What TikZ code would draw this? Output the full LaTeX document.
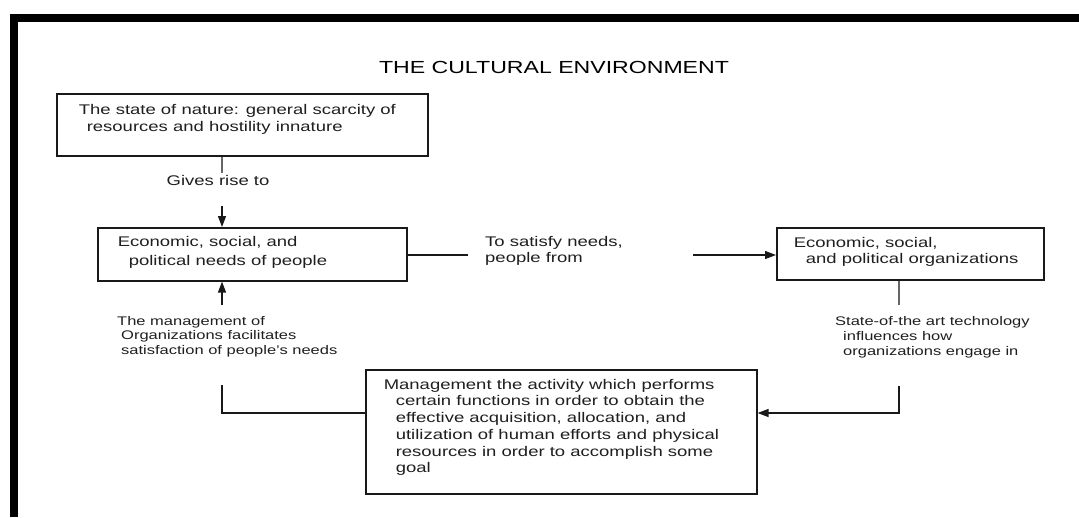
\documentclass[tikz,border=0pt]{standalone}
\usepackage{fontspec}
\setmainfont{Liberation Sans}[FakeStretch=1.32]
\usetikzlibrary{arrows.meta}
\begin{document}
\begin{tikzpicture}[x=1pt,y=-1pt,
  box/.style={draw=black!90, line width=1.6pt, inner sep=0pt, anchor=north west, text=black!88},
  lbl/.style={inner sep=0pt, anchor=north west, align=left, text=black!88},
  conn/.style={line width=1.3pt, draw=black!90},
  vconn/.style={line width=1.2pt, draw=black!60},
  arr/.style={-{Triangle[length=11pt,width=8pt]}}]
\fill[white] (0,0) rectangle (1079,517);
\useasboundingbox (0,0) rectangle (1079,517);
\fill[black] (10,14) rectangle (1079,22);
\fill[black] (10,14) rectangle (18,517);

\node[font=\fontsize{17.5}{20}\selectfont, inner sep=0pt] (title) at (554,67) {THE CULTURAL ENVIRONMENT};

\node[box] (nature) at (56,93) {\parbox[c][62pt][t]{371pt}{\fontsize{14}{17}\selectfont\vspace*{10.3pt}\hspace*{22pt}The state of nature: general scarcity of\\\hspace*{30pt}resources and hostility innature}};

\node[box] (needs) at (97,227) {\parbox[c][53pt][t]{309pt}{\fontsize{14}{19}\selectfont\vspace*{8.3pt}\hspace*{20pt}Economic, social, and\\\hspace*{31pt}political needs of people}};

\node[box] (orgs) at (776,227) {\parbox[c][52pt][t]{267pt}{\fontsize{14}{16}\selectfont\vspace*{9.3pt}\hspace*{17pt}Economic, social,\\\hspace*{29pt}and political organizations}};

\node[box] (mgmt) at (365,369) {\parbox[c][124pt][t]{391pt}{\fontsize{14}{16.7}\selectfont\vspace*{9.3pt}\hspace*{18pt}Management the activity which performs\\\hspace*{30pt}certain functions in order to obtain the\\\hspace*{30pt}effective acquisition, allocation, and\\\hspace*{30pt}utilization of human efforts and physical\\\hspace*{30pt}resources in order to accomplish some\\\hspace*{30pt}goal}};

\node[inner sep=0pt, text=black!88, font=\fontsize{14}{16}\selectfont] (gives) at (218,180) {Gives rise to};
\node[lbl, font=\fontsize{14}{16}\selectfont] (satisfy) at (485,236) {To satisfy needs,\\people from};
\node[lbl, font=\fontsize{12.5}{14.5}\selectfont] (mgmtlbl) at (117,316) {The management of\\\hspace*{4pt}Organizations facilitates\\\hspace*{4pt}satisfaction of people's needs};
\node[lbl, font=\fontsize{12.5}{15}\selectfont] (tech) at (835,316) {State-of-the art technology\\\hspace*{8pt}influences how\\\hspace*{8pt}organizations engage in};

\coordinate (n1) at (222,173);
\draw[vconn] (nature.south -| n1) -- (n1);
\coordinate (n2) at (222,206);
\draw[conn,arr] (n2) -- (n2 |- needs.north);

\coordinate (s1) at (468,255);
\draw[conn] (needs.east |- s1) -- (s1);
\coordinate (s2) at (693,255);
\draw[conn,arr] (s2) -- (s2 -| orgs.west);

\coordinate (t1) at (899,305);
\draw[vconn] (orgs.south -| t1) -- (t1);
\coordinate (t2) at (899,386);
\coordinate (t3) at (899,413);
\draw[conn,arr] (t2) -- (t3) -- (t3 -| mgmt.east);

\coordinate (m1) at (222,385);
\coordinate (m2) at (222,413);
\draw[conn] (m1) -- (m2) -- (m2 -| mgmt.west);
\coordinate (u1) at (222,305);
\draw[conn,arr] (u1) -- (u1 |- needs.south);
\end{tikzpicture}
\end{document}
